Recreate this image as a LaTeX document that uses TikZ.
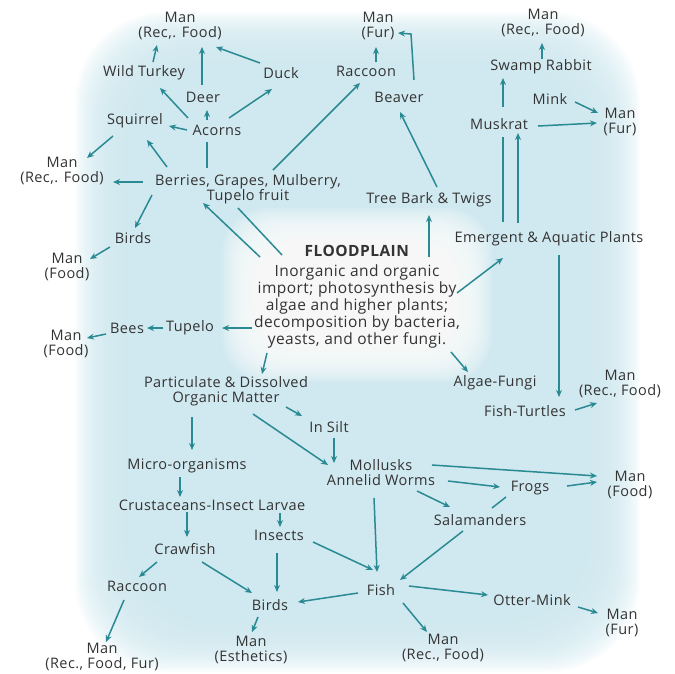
\documentclass[tikz,border=0pt]{standalone}
\usepackage{fontspec}
\setmainfont{Open Sans}[LetterSpace=3]
\usepackage{xcolor}
\usepackage{tikz}
\usetikzlibrary{calc,arrows.meta}
\definecolor{BgBlue}{HTML}{CDE7EE}
\definecolor{FlowTeal}{HTML}{2A8A94}
\definecolor{TextDark}{HTML}{333333}
\tikzset{
  lbl/.style={text=TextDark, align=center, inner sep=0pt, font=\fontsize{14.5}{15}\selectfont},
  flow/.style={FlowTeal, line width=1.5pt, -{Stealth[length=7pt,width=6pt]}},
  link/.style={FlowTeal, line width=1.5pt},
}

\begin{document}
\begin{tikzpicture}[x=1pt, y=-1pt]
        \useasboundingbox (0,0) rectangle (675,673);
        % soft blue backdrop and the white glow round the centre
        \foreach \k in {0,...,34}
            \fill[BgBlue, opacity=0.08, rounded corners=90pt] ({75+1.5*\k},{12+1.5*\k}) rectangle ({640-1.5*\k},{672-1.5*\k});
        \foreach \k in {0,...,19}
            \fill[white, opacity=0.12, rounded corners=45pt] ({222+2*\k},{208+2*\k}) rectangle ({492-2*\k},{382-2*\k});

        % centre
        \node[lbl, font=\fontsize{15.5}{17}\selectfont] (flood) at (357,297) {\textbf{FLOODPLAIN}\\[3pt]Inorganic and organic\\import; photosynthesis by\\algae and higher plants;\\decomposition by bacteria,\\yeasts, and other fungi.};

        % upper left
        \node[lbl] (manTL) at (180,26) {Man\\(Rec,. Food)};
        \node[lbl] (turkey) at (144,73) {Wild Turkey};
        \node[lbl] (duck) at (281,73) {Duck};
        \node[lbl] (deer) at (203,97) {Deer};
        \node[lbl] (squirrel) at (135,121) {Squirrel};
        \node[lbl] (acorns) at (217,130) {Acorns};
        \node[lbl] (manL1) at (62,171) {Man\\(Rec,. Food)};
        \node[lbl] (berries) at (248,189) {Berries, Grapes, Mulberry,\\Tupelo fruit};
        \node[lbl] (birdsU) at (133,238) {Birds};
        \node[lbl] (manL2) at (67,267) {Man\\(Food)};

        % upper right
        \node[lbl] (manFurT) at (378,26) {Man\\(Fur)};
        \node[lbl] (raccT) at (366,71) {Raccoon};
        \node[lbl] (beaver) at (399,97) {Beaver};
        \node[lbl] (bark) at (429,200) {Tree Bark \& Twigs};
        \node[lbl] (manTR) at (543,23) {Man\\(Rec,. Food)};
        \node[lbl] (rabbit) at (541,67) {Swamp Rabbit};
        \node[lbl] (mink) at (550,99) {Mink};
        \node[lbl] (manFurR) at (620,122) {Man\\(Fur)};
        \node[lbl] (muskrat) at (499,124) {Muskrat};
        \node[lbl] (emerg) at (549,239) {Emergent \& Aquatic Plants};
        \node[lbl] (algae) at (495,383) {Algae-Fungi};
        \node[lbl] (turtles) at (525,411) {Fish-Turtles};
        \node[lbl] (manR1) at (620,384) {Man\\(Rec., Food)};

        % middle left
        \node[lbl] (tupelo) at (190,328) {Tupelo};
        \node[lbl] (bees) at (127,328) {Bees};
        \node[lbl] (manL3) at (66,344) {Man\\(Food)};
        \node[lbl] (pom) at (226,391) {Particulate \& Dissolved\\Organic Matter};
        \node[lbl] (silt) at (329,427) {In Silt};

        % lower part
        \node[lbl] (micro) at (187,466) {Micro-organisms};
        \node[lbl] (crust) at (212,505) {Crustaceans-Insect Larvae};
        \node[lbl] (insects) at (279,535) {Insects};
        \node[lbl] (crawfish) at (185,549) {Crawfish};
        \node[lbl] (raccB) at (137,586) {Raccoon};
        \node[lbl] (manB1) at (102,657) {Man\\(Rec., Food, Fur)};
        \node[lbl] (birdsB) at (270,605) {Birds};
        \node[lbl] (manB2) at (251,650) {Man\\(Esthetics)};
        \node[lbl] (mollusks) at (381,473) {Mollusks\\Annelid Worms};
        \node[lbl] (frogs) at (530,488) {Frogs};
        \node[lbl] (salam) at (480,520) {Salamanders};
        \node[lbl] (manR2) at (630,485) {Man\\(Food)};
        \node[lbl] (fish) at (381,590) {Fish};
        \node[lbl] (otter) at (532,600) {Otter-Mink};
        \node[lbl] (manR3) at (622,623) {Man\\(Fur)};
        \node[lbl] (manB3) at (443,648) {Man\\(Rec., Food)};

        % connectors, upper left
        \draw[flow] ($(turkey)+(9,-11)$) -- ($(manTL)+(-23,19)$);
        \draw[flow] ($(deer)+(-1,-12)$) -- ($(manTL)+(22,21)$);
        \draw[flow] ($(duck)+(-21,-10)$) -- ($(manTL)+(36,21)$);
        \draw[flow] ($(acorns)+(-29,-12)$) -- ($(turkey)+(16,15)$);
        \draw[flow] ($(acorns)+(-10,-10)$) -- ($(deer)+(4,13)$);
        \draw[flow] ($(acorns)+(12,-12)$) -- ($(duck)+(-9,16)$);
        \draw[flow] ($(acorns)+(-30,0)$) -- ($(squirrel)+(34,5)$);
        \draw[link] ($(berries)+(-41,-21)$) -- ($(acorns)+(-10,12)$);
        \draw[flow] ($(berries)+(-81,-22)$) -- ($(squirrel)+(12,19)$);
        \draw[flow] ($(squirrel)+(-22,15)$) -- ($(manL1)+(25,-13)$);
        \draw[flow] ($(berries)+(-105,-7)$) -- ($(manL1)+(51,11)$);
        \draw[flow] ($(berries)+(-96,6)$) -- ($(birdsU)+(2,-10)$);
        \draw[flow] ($(berries)+(25,-19)$) -- ($(raccT)+(-6,12)$);
        \draw[flow] ($(birdsU)+(-23,9)$) -- ($(manL2)+(23,-8)$);
        \draw[flow] ($(flood)+(-97,-40)$) -- ($(berries)+(-45,14)$);
        \draw[link] ($(berries)+(-10,19)$) -- ($(flood)+(-75,-42)$);

        % connectors, upper right
        \draw[flow] ($(raccT)+(10,-9)$) -- ($(manFurT)+(-2,21)$);
        \draw[flow] ($(beaver)+(15,-17)$) -- ($(manFurT)+(33,8)$) -- ($(manFurT)+(20,7)$);
        \draw[flow] ($(bark)+(8,-13)$) -- ($(beaver)+(1,15)$);
        \draw[flow] ($(flood)+(72,-40)$) -- ($(bark)+(0,15)$);
        \draw[flow] ($(rabbit)+(1,-8)$) -- ($(manTR)+(-1,20)$);
        \draw[flow] ($(mink)+(25,3)$) -- ($(manFurR)+(-22,-9)$);
        \draw[flow] ($(muskrat)+(39,2)$) -- ($(manFurR)+(-23,1)$);
        \draw[flow] ($(muskrat)+(4,-17)$) -- ($(rabbit)+(-38,11)$);
        \draw[link] ($(emerg)+(-46,-17)$) -- ($(muskrat)+(4,13)$);
        \draw[flow] ($(emerg)+(-31,-16)$) -- ($(muskrat)+(19,9)$);
        \draw[flow] ($(flood)+(100,-4)$) -- ($(emerg)+(-46,19)$);
        \draw[flow] ($(flood)+(94,55)$) -- ($(algae)+(-27,-11)$);
        \draw[flow] ($(emerg)+(10,16)$) -- ($(turtles)+(34,-14)$);
        \draw[flow] ($(turtles)+(50,-1)$) -- ($(manR1)+(-23,19)$);

        % connectors, middle left
        \draw[flow] ($(flood)+(-105,31)$) -- ($(tupelo)+(32,0)$);
        \draw[flow] ($(tupelo)+(-27,0)$) -- ($(bees)+(20,0)$);
        \draw[flow] ($(bees)+(-21,6)$) -- ($(manL3)+(21,-6)$);
        \draw[flow] ($(flood)+(-90,56)$) -- ($(pom)+(36,-17)$);
        \draw[flow] ($(pom)+(60,16)$) -- ($(silt)+(-27,-11)$);
        \draw[flow] ($(pom)+(27,23)$) -- ($(mollusks)+(-53,-8)$);
        \draw[flow] ($(silt)+(5,11)$) -- ($(mollusks)+(-47,-10)$);
        \draw[flow] ($(pom)+(-34,26)$) -- ($(micro)+(5,-16)$);

        % connectors, lower part
        \draw[flow] ($(micro)+(-7,11)$) -- ($(crust)+(-32,-8)$);
        \draw[flow] ($(crust)+(-25,7)$) -- ($(crawfish)+(2,-12)$);
        \draw[flow] ($(crust)+(68,8)$) -- ($(insects)+(1,-8)$);
        \draw[flow] ($(crawfish)+(-28,13)$) -- ($(raccB)+(2,-9)$);
        \draw[flow] ($(crawfish)+(17,13)$) -- ($(birdsB)+(-18,-12)$);
        \draw[flow] ($(insects)+(-2,18)$) -- ($(birdsB)+(7,-13)$);
        \draw[flow] ($(raccB)+(-13,14)$) -- ($(manB1)+(4,-15)$);
        \draw[flow] ($(birdsB)+(-12,12)$) -- ($(manB2)+(1,-18)$);
        \draw[flow] ($(fish)+(-23,3)$) -- ($(birdsB)+(28,-3)$);
        \draw[flow] ($(mollusks)+(51,-8)$) -- ($(manR2)+(-33,-9)$);
        \draw[flow] ($(mollusks)+(67,8)$) -- ($(frogs)+(-30,-1)$);
        \draw[flow] ($(frogs)+(37,-2)$) -- ($(manR2)+(-33,-3)$);
        \draw[link] ($(frogs)+(-24,9)$) -- ($(salam)+(12,-12)$);
        \draw[flow] ($(mollusks)+(36,18)$) -- ($(salam)+(-30,-13)$);
        \draw[flow] ($(mollusks)+(-7,25)$) -- ($(fish)+(-4,-18)$);
        \draw[flow] ($(insects)+(34,7)$) -- ($(fish)+(-8,-20)$);
        \draw[flow] ($(salam)+(-17,11)$) -- ($(fish)+(19,-10)$);
        \draw[flow] ($(fish)+(28,-4)$) -- ($(otter)+(-44,-5)$);
        \draw[flow] ($(otter)+(46,7)$) -- ($(manR3)+(-24,-10)$);
        \draw[flow] ($(fish)+(22,13)$) -- ($(manB3)+(-16,-16)$);
    \end{tikzpicture}
\end{document}
